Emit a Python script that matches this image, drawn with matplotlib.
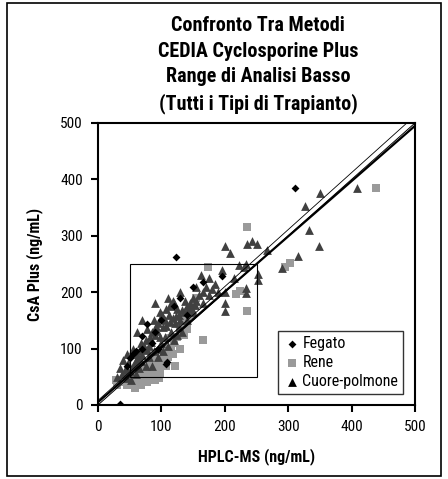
import matplotlib
matplotlib.use("Agg")
import matplotlib.pyplot as plt
from matplotlib import font_manager
from matplotlib.patches import Rectangle
import numpy as np

# pick a narrow font if one is installed
names = [(f.name, f.stretch) for f in font_manager.fontManager.ttflist]
stretch = 'normal'
family = 'DejaVu Sans'
for cand in ['Liberation Sans Narrow', 'Roboto Condensed', 'Open Sans Condensed', 'Noto Sans Condensed']:
    if any(n == cand for n, _ in names):
        family = cand
        break
else:
    for cand in ['Roboto', 'Noto Sans', 'DejaVu Sans', 'Open Sans', 'Liberation Sans']:
        if any(n == cand and s in ('condensed', 'semi-condensed', 'extra-condensed', 75, 87)
               for n, s in names):
            family = cand
            stretch = 'condensed'
            break
plt.rcParams['font.family'] = [family, 'DejaVu Sans']
plt.rcParams['font.stretch'] = stretch

# Fegato (liver)
fegato_x = [310, 123, 165, 195, 78, 69, 109, 51, 35, 108, 60, 55, 90, 100, 130, 150, 45, 85, 95, 140, 120, 70]
fegato_y = [385, 262, 218, 229, 143, 123, 77, 84, 2, 72, 95, 90, 130, 150, 190, 210, 70, 110, 100, 160, 175, 100]

# Rene (kidney)
rene_x = [439, 235, 303, 295, 174, 235, 166, 224, 217, 150, 145, 140, 130, 125, 120, 115, 110, 105,
          100, 95, 90, 85, 80, 75, 70, 65, 60, 55, 50, 45, 40, 35, 30, 28, 62, 72, 82, 92, 102, 112,
          118, 108, 98, 88, 78, 68, 58, 122, 130, 135, 155, 140, 90, 96, 52, 64, 76, 84, 104, 114]
rene_y = [384, 316, 252, 245, 245, 166, 116, 202, 196, 175, 160, 150, 140, 120, 110, 95, 85, 90,
          75, 65, 70, 60, 55, 50, 45, 40, 50, 35, 40, 35, 45, 40, 35, 45, 60, 62, 75, 80, 100, 100,
          90, 70, 55, 50, 40, 35, 30, 70, 100, 125, 190, 135, 45, 48, 55, 48, 65, 88, 82, 118]

# Cuore-polmone (heart-lung)
cuore_x = [30, 38, 45, 42, 50, 55, 48, 60, 58, 65, 70, 72, 68, 75, 80, 82, 85, 78, 90, 92, 88, 95,
           100, 98, 105, 108, 112, 115, 118, 110, 120, 125, 128, 130, 122, 135, 140, 138, 145, 150,
           155, 160, 148, 132, 115, 105, 100, 95, 88, 80, 75, 65, 60, 52, 85, 95, 102, 110, 120, 125,
           140, 150, 165, 170, 175, 180, 185, 162, 200, 208, 235, 243, 250, 234, 222, 253, 253, 234,
           234, 201, 201, 201, 190, 114, 101, 267, 291, 315, 348, 333, 326, 350, 409, 175, 195, 215,
           230, 90, 70, 62, 55, 45, 40, 35, 155, 165, 130,
           63, 73, 83, 93, 103, 113, 123, 133, 143, 153, 118, 128, 108, 98, 78, 68, 58, 48]
cuore_y = [50, 55, 48, 62, 60, 70, 75, 80, 90, 95, 88, 100, 110, 115, 105, 120, 130, 135, 125, 140,
           150, 145, 155, 165, 150, 170, 160, 175, 185, 190, 180, 170, 160, 150, 145, 165, 175, 185,
           180, 190, 185, 195, 170, 130, 130, 120, 110, 100, 95, 85, 70, 65, 55, 45, 70, 85, 95, 105,
           115, 125, 150, 165, 200, 210, 195, 205, 215, 230, 282, 270, 285, 290, 285, 250, 248, 232,
           222, 208, 199, 180, 166, 200, 200, 178, 160, 275, 243, 264, 282, 311, 352, 375, 384, 225,
           240, 225, 245, 180, 150, 130, 100, 90, 80, 65, 210, 180, 200,
           85, 105, 112, 132, 138, 148, 158, 168, 172, 178, 155, 138, 140, 120, 98, 78, 72, 58]

# lines: identity, upper fit, regression
line_x = [0, 500]
ident_y = [0, 500]
upper_y = [8, 513]
regr_y = [5, 495]

fig = plt.figure(figsize=(4.48, 4.79), dpi=100)
fig.patches.append(Rectangle((7 / 448, 3 / 479), 434 / 448, 473 / 479, transform=fig.transFigure,
                             fill=False, edgecolor='black', linewidth=1.2))

ax = fig.add_axes([98 / 448, 74 / 479, 317 / 448, 282 / 479])

ax.scatter(cuore_x, cuore_y, marker='^', s=40, color='#404040', linewidths=0, zorder=3, label='Cuore-polmone')
ax.scatter(rene_x, rene_y, marker='s', s=32, color='#9a9a9a', linewidths=0, zorder=2, label='Rene')
ax.scatter(fegato_x, fegato_y, marker='D', s=16, color='black', linewidths=0, zorder=4, label='Fegato')

ax.plot(line_x, ident_y, color='black', linewidth=0.7, zorder=5)
ax.plot(line_x, upper_y, color='black', linewidth=0.6, zorder=5)
ax.plot(line_x, regr_y, color='black', linewidth=1.6, zorder=5)

ax.add_patch(Rectangle((50, 50), 200, 200, fill=False, edgecolor='black', linewidth=0.8, zorder=6))

ax.set_xlim(0, 500)
ax.set_ylim(0, 500)
ax.set_xticks([0, 100, 200, 300, 400, 500])
ax.set_yticks([0, 100, 200, 300, 400, 500])
ax.tick_params(direction='out', length=5, width=1.5, labelsize=11, pad=6)
for s in ax.spines.values():
    s.set_linewidth(1.5)

ax.set_xlabel('HPLC-MS (ng/mL)', fontsize=11.5, fontweight='bold', labelpad=10)
ax.set_ylabel('CsA Plus (ng/mL)', fontsize=11.5, fontweight='bold', labelpad=12)

handles, labels = ax.get_legend_handles_labels()
order = [2, 1, 0]
leg = ax.legend([handles[i] for i in order], [labels[i] for i in order], loc='lower right',
                bbox_to_anchor=(0.962, 0.039), fontsize=11.5, frameon=True, fancybox=False,
                borderpad=0.3, handletextpad=0.1, handlelength=1.1, labelspacing=0.25,
                borderaxespad=0)
leg.get_frame().set_edgecolor('black')
leg.get_frame().set_linewidth(1.0)
leg.legend_handles[2].set_color('black')

fig.text(258 / 448, 1 - 65 / 479,
         'Confronto Tra Metodi\nCEDIA Cyclosporine Plus\nRange di Analisi Basso\n(Tutti i Tipi di Trapianto)',
         ha='center', va='center', fontsize=14.5, fontweight='bold', linespacing=1.42)

fig.savefig('out.png', dpi=100)
